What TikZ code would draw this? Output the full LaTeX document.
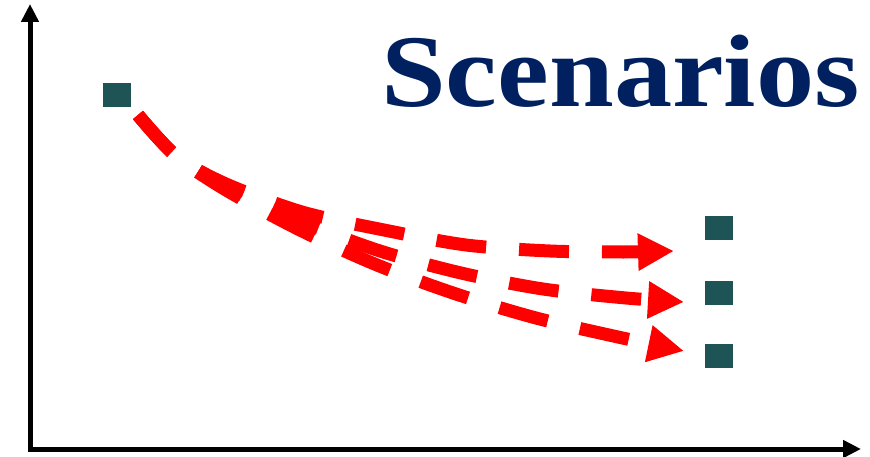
\documentclass[tikz,border=0pt]{standalone}
\usepackage{fontspec}
\setmainfont{Liberation Serif}
\usetikzlibrary{arrows.meta}
\definecolor{navy}{RGB}{0,32,96}
\definecolor{teal}{RGB}{31,84,86}
\tikzset{
  axis/.style={line width=5pt,-{Triangle[length=18pt,width=17pt]}},
  box/.style={rectangle,fill=teal,minimum width=28pt,minimum height=24pt,inner sep=0pt},
  redpath/.style={draw=red,line width=13pt,dash pattern=on 50pt off 33pt,
     -{Triangle[length=36pt,width=35pt,fill=red]}}
}
\begin{document}
\begin{tikzpicture}[x=1pt,y=-1pt]
\useasboundingbox (0,0) rectangle (870,457);
\coordinate (o) at (30,449);
\coordinate (ytip) at (30,4);
\coordinate (xtip) at (861,449);
\draw[axis] (o) -- (ytip);
\draw[axis] (28,449) -- (xtip);
\node[box] (s0) at (117,95) {};
\node[box] (e1) at (719,228) {};
\node[box] (e2) at (719,293) {};
\node[box] (e3) at (719,356) {};
\node[anchor=base west,inner sep=0pt,text=navy,xscale=1.13,
  font={\fontsize{103}{103}\selectfont\bfseries}] (title) at (381,107) {Scenarios};
\coordinate (s) at (138,115);
\coordinate (t1) at (674,251);
\coordinate (t2) at (684,302);
\coordinate (t3) at (684,351);
\draw[redpath] plot[smooth,tension=0.5] coordinates {(s) (176,156) (226,184) (302,212) (384,230) (466,245) (550,251) (624,252) (t1)};
\draw[redpath] plot[smooth,tension=0.5] coordinates {(s) (176,156) (226,187) (302,222) (380,251) (461,273) (543,289) (626,298) (t2)};
\draw[redpath] plot[smooth,tension=0.5] coordinates {(s) (176,156) (226,190) (300,230) (377,265) (456,294) (536,318) (618,337) (t3)};
\end{tikzpicture}
\end{document}
